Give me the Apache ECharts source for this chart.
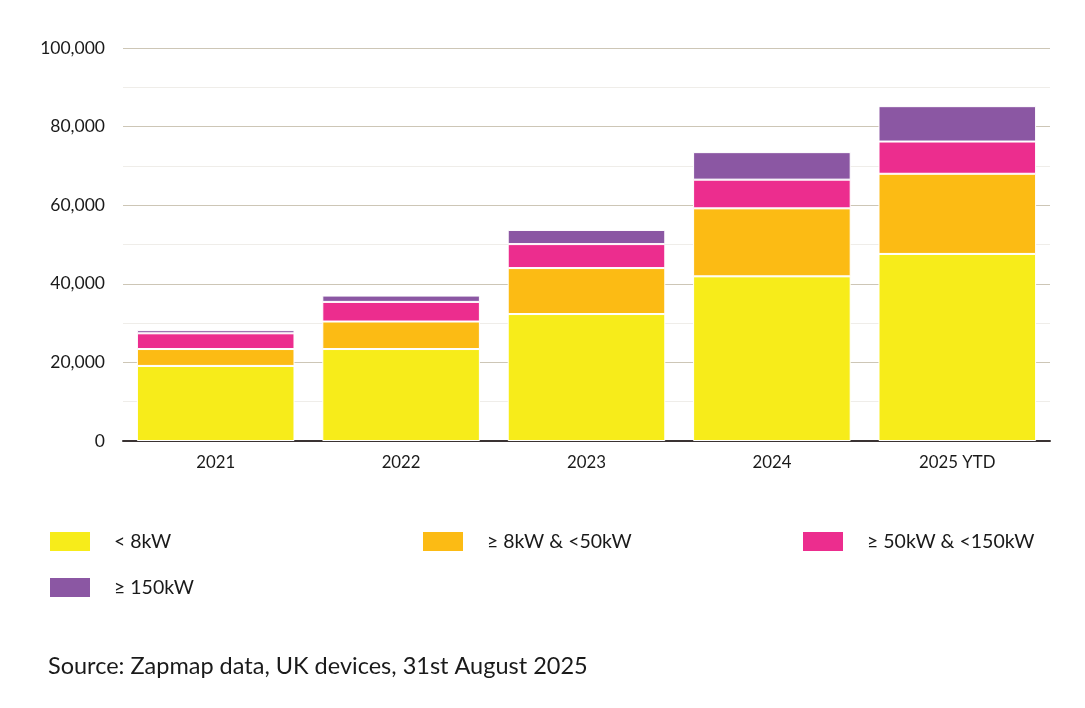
<!DOCTYPE html>
<html>
<head>
<meta charset="utf-8">
<script src="https://cdn.jsdelivr.net/npm/echarts@6/dist/echarts.min.js"></script>
<style>
html,body{margin:0;padding:0;background:#fff;}
#c{width:1085px;height:708px;}
</style>
</head>
<body>
<div id="c"></div>
<script>
const categories = ['2021', '2022', '2023', '2024', '2025 YTD'];
const seriesNames = ['< 8kW', '≥ 8kW & <50kW', '≥ 50kW & <150kW', '≥ 150kW'];
const under8 = [19100, 23400, 32300, 41900, 47600];
const from8to50 = [4300, 7000, 11700, 17300, 20400];
const from50to150 = [4000, 5000, 6100, 7300, 8200];
const over150 = [800, 1600, 3600, 7000, 9000];
const colors = ['#f7ec1a', '#fcbb14', '#ec2d8e', '#8b57a3'];
const seriesData = [under8, from8to50, from50to150, over150];

const font = 'Lato, "Open Sans", sans-serif';
const legendPos = [
  {left: 48, top: 530},
  {left: 421, top: 530},
  {left: 801, top: 530},
  {left: 48, top: 576}
];

const chart = echarts.init(document.getElementById('c'));
chart.setOption({
  animation: false,
  backgroundColor: '#fff',
  title: {
    text: 'Source: Zapmap data, UK devices, 31st August 2025',
    left: 48, top: 654, padding: 0,
    textStyle: {fontFamily: font, fontSize: 23.5, fontWeight: 'normal', color: '#1a1a1a'}
  },
  legend: seriesNames.map((n, i) => ({
    data: [n],
    left: legendPos[i].left, top: legendPos[i].top,
    padding: 0,
    icon: 'rect', itemWidth: 42, itemHeight: 21,
    selectedMode: false,
    textStyle: {fontFamily: font, fontSize: 19.5, color: '#1a1a1a', padding: [0, 0, 0, 18]}
  })),
  grid: {left: 123, right: 35, top: 48, bottom: 267, containLabel: false},
  xAxis: {
    type: 'category',
    data: categories,
    axisLine: {lineStyle: {color: '#3a3333', width: 2}},
    axisTick: {show: false},
    axisLabel: {fontFamily: font, fontSize: 16.8, color: '#1a1a1a', margin: 13}
  },
  yAxis: {
    type: 'value',
    min: 0, max: 100000, interval: 10000,
    axisLine: {show: false},
    axisTick: {show: false},
    axisLabel: {
      fontFamily: font, fontSize: 17.5, color: '#1a1a1a', margin: 18,
      formatter: v => (v % 20000 === 0 ? v.toLocaleString('en-US') : '')
    },
    splitLine: {lineStyle: {color: ['#cdc6b6', '#efede9'], width: 1.2}}
  },
  series: seriesNames.map((n, i) => ({
    name: n,
    type: 'bar',
    stack: 'total',
    data: seriesData[i],
    barCategoryGap: '15%',
    itemStyle: {color: colors[i], borderColor: '#fff', borderWidth: 1}
  }))
});
</script>
</body>
</html>
